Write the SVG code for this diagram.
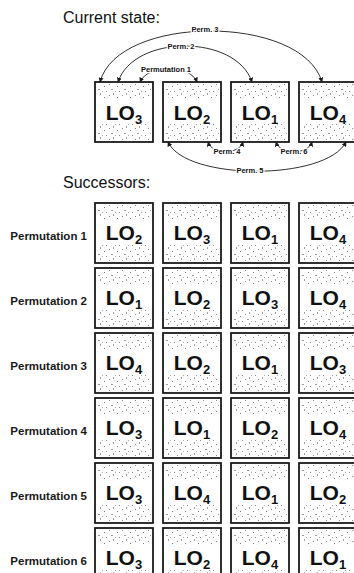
<svg xmlns="http://www.w3.org/2000/svg" xmlns:xlink="http://www.w3.org/1999/xlink" width="354" height="573" viewBox="0 0 354 573">
  <style>
    .title { font-family: "Liberation Sans", Arial, sans-serif; font-size: 16px; fill: #111; }
    .row { font-family: "Liberation Sans", Arial, sans-serif; font-size: 11.5px; font-weight: bold; fill: #1a1a1a; text-anchor: end; }
    .lo { font-family: "Liberation Sans", Arial, sans-serif; font-size: 21px; font-weight: bold; fill: #111; text-anchor: middle; }
    .sub { font-size: 13px; }
    .frame { fill: none; stroke: #1a1a1a; stroke-width: 1.8; }
    .band { fill: url(#grain); }
    .arc { fill: none; stroke: #1a1a1a; stroke-width: 0.9; marker-start: url(#tip); marker-end: url(#tip); }
    .tag { font-family: "Liberation Sans", Arial, sans-serif; font-size: 7.5px; font-weight: bold; fill: #111; text-anchor: middle;
           stroke: #fff; stroke-width: 2.5; paint-order: stroke; stroke-linejoin: round; }
  </style>
  <defs>
    <marker id="tip" viewBox="0 0 8 8" refX="7" refY="4" markerWidth="5" markerHeight="5" orient="auto-start-reverse" markerUnits="userSpaceOnUse">
      <path d="M0,0 L8,4 L0,8 Z" fill="#1a1a1a"/>
    </marker>
    <!-- sparse speckle texture used in the tile bands -->
    <pattern id="grain" width="13" height="11" patternUnits="userSpaceOnUse">
      <rect x="1" y="2" width="1" height="1" fill="#8a8a8a"/>
      <rect x="5" y="0" width="1" height="2" fill="#a0a0a0"/>
      <rect x="9" y="4" width="1" height="1" fill="#7a7a7a"/>
      <rect x="3" y="7" width="2" height="1" fill="#9a9a9a"/>
      <rect x="11" y="9" width="1" height="1" fill="#888"/>
      <rect x="7" y="9" width="1" height="1" fill="#aaa"/>
    </pattern>
    <!-- one tile: framed square with speckled top and bottom bands -->
    <symbol id="tile" overflow="visible">
      <rect class="band" x="2" y="2" width="54" height="16"/>
      <rect class="band" x="2" y="42" width="54" height="16"/>
      <rect class="frame" x="0" y="0" width="58" height="60"/>
    </symbol>
  </defs>

  <rect width="354" height="573" fill="#fff"/>

  <text class="title" x="63" y="23">Current state:</text>
  <text class="title" x="63" y="188">Successors:</text>

  <!-- current state -->
  <g id="cur-1" transform="translate(95,82)"><use xlink:href="#tile"/><text class="lo" x="29" y="38">LO<tspan class="sub" dy="4">3</tspan></text></g>
  <g id="cur-2" transform="translate(163,82)"><use xlink:href="#tile"/><text class="lo" x="29" y="38">LO<tspan class="sub" dy="4">2</tspan></text></g>
  <g id="cur-3" transform="translate(231,82)"><use xlink:href="#tile"/><text class="lo" x="29" y="38">LO<tspan class="sub" dy="4">1</tspan></text></g>
  <g id="cur-4" transform="translate(299,82)"><use xlink:href="#tile"/><text class="lo" x="29" y="38">LO<tspan class="sub" dy="4">4</tspan></text></g>

  <!-- swap connectors -->
  <g id="connectors">
    <path class="arc" d="M100,82 C118,14 302,14 322,82"/>
    <path class="arc" d="M118,82 C134,34 236,34 252,82"/>
    <path class="arc" d="M140,82 C148,64 190,64 197,82"/>
    <path class="arc" d="M208,142 C212,155 239,155 243,142"/>
    <path class="arc" d="M276,142 C280,155 308,155 312,142"/>
    <path class="arc" d="M168,142 C186,181 326,181 346,142"/>
    <text class="tag" x="205" y="32">Perm. 3</text>
    <text class="tag" x="181" y="49">Perm. 2</text>
    <text class="tag" x="166" y="72">Permutation 1</text>
    <text class="tag" x="227" y="154">Perm. 4</text>
    <text class="tag" x="294" y="154">Perm. 6</text>
    <text class="tag" x="250" y="173">Perm. 5</text>
  </g>

  <!-- successors -->
  <text class="row" x="87" y="240">Permutation 1</text>
  <g id="p1-1" transform="translate(95,203)"><use xlink:href="#tile"/><text class="lo" x="29" y="37">LO<tspan class="sub" dy="4">2</tspan></text></g>
  <g id="p1-2" transform="translate(163,203)"><use xlink:href="#tile"/><text class="lo" x="29" y="37">LO<tspan class="sub" dy="4">3</tspan></text></g>
  <g id="p1-3" transform="translate(231,203)"><use xlink:href="#tile"/><text class="lo" x="29" y="37">LO<tspan class="sub" dy="4">1</tspan></text></g>
  <g id="p1-4" transform="translate(299,203)"><use xlink:href="#tile"/><text class="lo" x="29" y="37">LO<tspan class="sub" dy="4">4</tspan></text></g>

  <text class="row" x="87" y="305">Permutation 2</text>
  <g id="p2-1" transform="translate(95,268)"><use xlink:href="#tile"/><text class="lo" x="29" y="37">LO<tspan class="sub" dy="4">1</tspan></text></g>
  <g id="p2-2" transform="translate(163,268)"><use xlink:href="#tile"/><text class="lo" x="29" y="37">LO<tspan class="sub" dy="4">2</tspan></text></g>
  <g id="p2-3" transform="translate(231,268)"><use xlink:href="#tile"/><text class="lo" x="29" y="37">LO<tspan class="sub" dy="4">3</tspan></text></g>
  <g id="p2-4" transform="translate(299,268)"><use xlink:href="#tile"/><text class="lo" x="29" y="37">LO<tspan class="sub" dy="4">4</tspan></text></g>

  <text class="row" x="87" y="370">Permutation 3</text>
  <g id="p3-1" transform="translate(95,333)"><use xlink:href="#tile"/><text class="lo" x="29" y="37">LO<tspan class="sub" dy="4">4</tspan></text></g>
  <g id="p3-2" transform="translate(163,333)"><use xlink:href="#tile"/><text class="lo" x="29" y="37">LO<tspan class="sub" dy="4">2</tspan></text></g>
  <g id="p3-3" transform="translate(231,333)"><use xlink:href="#tile"/><text class="lo" x="29" y="37">LO<tspan class="sub" dy="4">1</tspan></text></g>
  <g id="p3-4" transform="translate(299,333)"><use xlink:href="#tile"/><text class="lo" x="29" y="37">LO<tspan class="sub" dy="4">3</tspan></text></g>

  <text class="row" x="87" y="435">Permutation 4</text>
  <g id="p4-1" transform="translate(95,398)"><use xlink:href="#tile"/><text class="lo" x="29" y="37">LO<tspan class="sub" dy="4">3</tspan></text></g>
  <g id="p4-2" transform="translate(163,398)"><use xlink:href="#tile"/><text class="lo" x="29" y="37">LO<tspan class="sub" dy="4">1</tspan></text></g>
  <g id="p4-3" transform="translate(231,398)"><use xlink:href="#tile"/><text class="lo" x="29" y="37">LO<tspan class="sub" dy="4">2</tspan></text></g>
  <g id="p4-4" transform="translate(299,398)"><use xlink:href="#tile"/><text class="lo" x="29" y="37">LO<tspan class="sub" dy="4">4</tspan></text></g>

  <text class="row" x="87" y="500">Permutation 5</text>
  <g id="p5-1" transform="translate(95,463)"><use xlink:href="#tile"/><text class="lo" x="29" y="37">LO<tspan class="sub" dy="4">3</tspan></text></g>
  <g id="p5-2" transform="translate(163,463)"><use xlink:href="#tile"/><text class="lo" x="29" y="37">LO<tspan class="sub" dy="4">4</tspan></text></g>
  <g id="p5-3" transform="translate(231,463)"><use xlink:href="#tile"/><text class="lo" x="29" y="37">LO<tspan class="sub" dy="4">1</tspan></text></g>
  <g id="p5-4" transform="translate(299,463)"><use xlink:href="#tile"/><text class="lo" x="29" y="37">LO<tspan class="sub" dy="4">2</tspan></text></g>

  <text class="row" x="87" y="565">Permutation 6</text>
  <g id="p6-1" transform="translate(95,528)"><use xlink:href="#tile"/><text class="lo" x="29" y="37">LO<tspan class="sub" dy="4">3</tspan></text></g>
  <g id="p6-2" transform="translate(163,528)"><use xlink:href="#tile"/><text class="lo" x="29" y="37">LO<tspan class="sub" dy="4">2</tspan></text></g>
  <g id="p6-3" transform="translate(231,528)"><use xlink:href="#tile"/><text class="lo" x="29" y="37">LO<tspan class="sub" dy="4">4</tspan></text></g>
  <g id="p6-4" transform="translate(299,528)"><use xlink:href="#tile"/><text class="lo" x="29" y="37">LO<tspan class="sub" dy="4">1</tspan></text></g>
</svg>
